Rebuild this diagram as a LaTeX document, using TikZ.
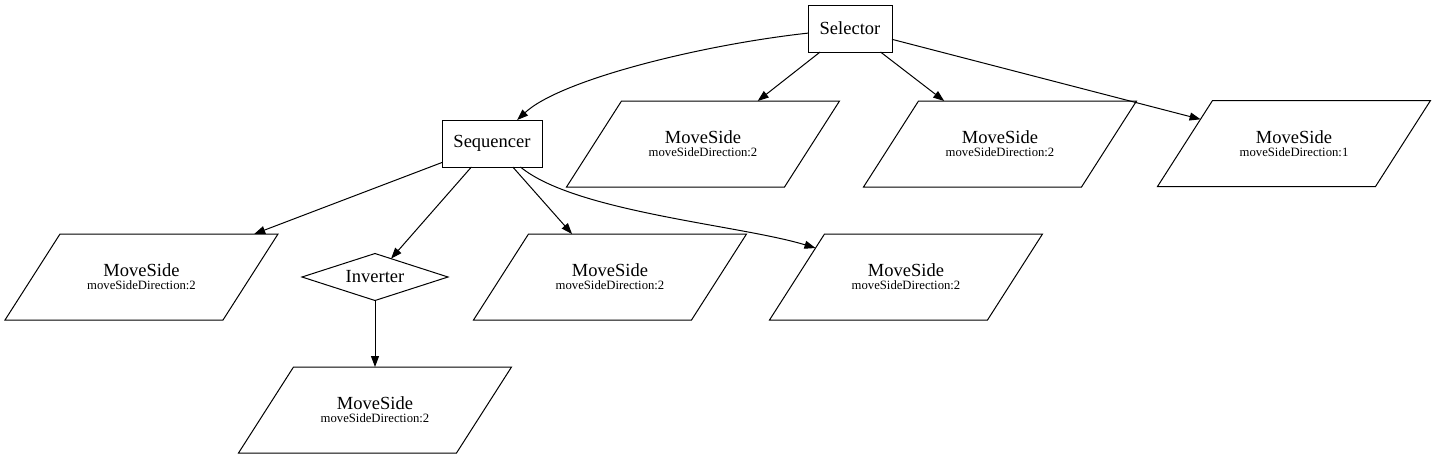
\documentclass[tikz,border=0pt]{standalone}
\usepackage{fontspec}
\setmainfont{Liberation Serif}
\usetikzlibrary{shapes.geometric,arrows.meta,calc}
\begin{document}
\begin{tikzpicture}[x=1pt,y=-1pt,
  every node/.style={inner sep=0pt,outer sep=0pt,line width=1pt},
  boxnode/.style={draw,rectangle,minimum width=84pt,minimum height=47pt,font=\fontsize{18.5}{20}\selectfont},
  ptext/.style={rectangle,minimum width=273pt,minimum height=86pt,align=center},
  pline/.style={draw,line width=1pt,line join=miter},
  dia/.style={draw,diamond,aspect=3.1,minimum width=146pt,minimum height=47pt,font=\fontsize{18.5}{20}\selectfont},
  conn/.style={line width=1pt,-{Triangle[length=11pt,width=8pt]}}
]
\fill[white] (0,0) rectangle (1439,459);
\useasboundingbox (0,0) rectangle (1439,459);
\newcommand{\msd}[1]{{\fontsize{18.5}{21}\selectfont MoveSide}\\[1pt]{\fontsize{12.7}{14}\selectfont moveSideDirection:#1}}
\newcommand{\paral}[4]{%
  \node[ptext] (#1) at (#2,#3) {\msd{#4}};
  \draw[pline] ($(#1.center)+(-81.5,-43)$) -- ++(218,0) -- ++(-55,86) -- ++(-218,0) -- cycle;}
\node[boxnode] (sel) at (850,28.5) {Selector};
\node[boxnode,minimum width=100pt] (seq) at (492,143.5) {Sequencer};
\paral{p1}{703}{144}{2}
\paral{p2}{1000}{144}{2}
\paral{p3}{1294}{143.5}{1}
\paral{l1}{141.5}{277}{2}
\node[dia] (inv) at (375,277) {Inverter};
\paral{l3}{610}{277}{2}
\paral{l4}{906}{277}{2}
\paral{b1}{375}{410}{2}
\coordinate (p3in) at (1200.6,119.3);
\coordinate (l4in) at (815.5,248);
\draw[conn] (sel) .. controls (700,45) and (560,80) .. (seq);
\draw[conn] (sel) -- (p1);
\draw[conn] (sel) -- (p2);
\draw[conn] (sel) -- (p3in);
\draw[conn] (seq) -- (l1);
\draw[conn] (seq) -- (inv);
\draw[conn] (seq) -- (l3);
\draw[conn] (seq) .. controls (575,212) and (740,225) .. (l4in);
\draw[conn] (inv) -- (b1);
\end{tikzpicture}
\end{document}
